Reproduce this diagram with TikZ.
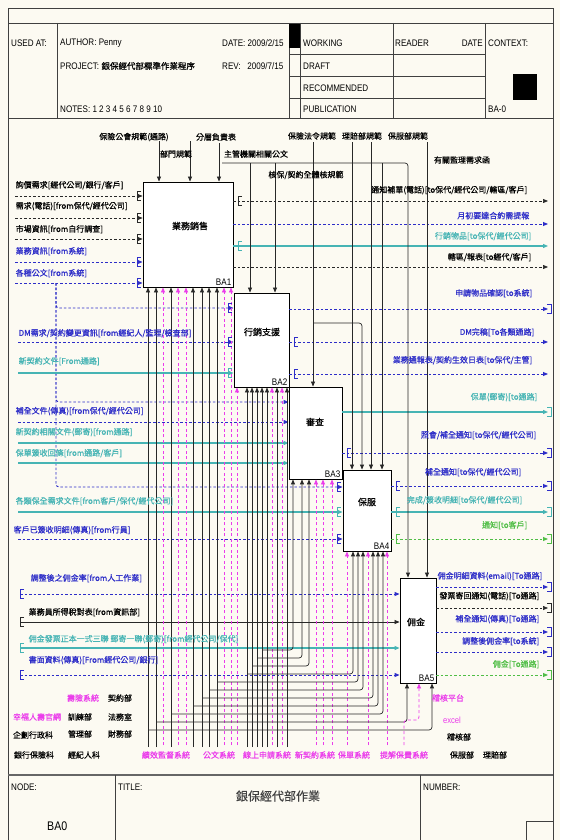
\documentclass[tikz,border=0pt]{standalone}
\usepackage{fontspec}
\setmainfont{Liberation Sans}[FakeStretch=0.85]
\newfontfamily\cjk{Noto Sans CJK TC}[FakeBold=0.6]
\usetikzlibrary{arrows.meta}
\definecolor{paper}{RGB}{252,250,242}
\definecolor{idefline}{RGB}{40,40,40}
\definecolor{idefblue}{RGB}{45,45,200}
\definecolor{idefteal}{RGB}{70,180,180}
\definecolor{idefgreen}{RGB}{80,190,70}
\definecolor{idefmag}{RGB}{235,60,235}

\begin{document}
\begin{tikzpicture}[
  x=1pt, y=-1pt,
  actbox/.style={rectangle, draw=black, line width=0.9pt, fill=white, inner sep=0pt},
  acttext/.style={font=\cjk\fontsize{9}{10}\selectfont},
  actnum/.style={anchor=south east, inner sep=2pt, font=\fontsize{9.5}{10}\selectfont},
  lbl/.style={inner sep=0.5pt, font=\cjk\fontsize{8}{9}\selectfont},
  hdr/.style={anchor=west, inner sep=0pt, font=\fontsize{9.5}{11}\selectfont},
  kline/.style={draw=idefline, line width=0.7pt, -{Triangle[length=5pt,width=4pt]}},
  kdash/.style={kline, dash pattern=on 2.5pt off 2pt},
  bdash/.style={kline, draw=idefblue, line width=0.9pt, dash pattern=on 2.5pt off 2pt},
  tline/.style={kline, draw=idefteal, line width=1.1pt},
  gdash/.style={kline, draw=idefgreen, line width=0.9pt, dash pattern=on 2.5pt off 2pt},
  mdash/.style={kline, draw=idefmag, line width=0.8pt, dash pattern=on 3pt off 2.5pt},
  frame/.style={draw=black!75, line width=0.8pt},
  tunl/.pic={\draw[line width=0.7pt] (4,-4.5) -- (0,-4.5) -- (0,4.5) -- (4,4.5);},
  tunr/.pic={\draw[line width=0.7pt] (-4,-4.5) -- (0,-4.5) -- (0,4.5) -- (-4,4.5);}
]
  \useasboundingbox[fill=paper] (0,0) rectangle (560,840);

  % form frame and header
  \draw[frame] (8,840) -- (8,8) -- (553,8) -- (553,840);
  \draw[frame] (8,23) -- (553,23) (8,118) -- (553,118);
  \draw[frame] (57,23) -- (57,118) (289,23) -- (289,118) (300,23) -- (300,118) (393,23) -- (393,118) (485,23) -- (485,118);
  \draw[frame] (289,54) -- (485,54) (289,76) -- (485,76) (289,98) -- (485,98);
  \fill (289,24) rectangle (300,48);
  \fill (513,74) rectangle (537,100);
  \node[hdr] (usedat) at (11,43) {USED AT:};
  \node[hdr] (author) at (60,43) {AUTHOR:\ Penny};
  \node[hdr] (project) at (60,66) {PROJECT:\ {\cjk\fontsize{8.5}{10}\selectfont 銀保經代部標準作業程序}};
  \node[hdr] (notes) at (60,109) {NOTES:\ 1\ 2\ 3\ 4\ 5\ 6\ 7\ 8\ 9\ 10};
  \node[hdr] (hdate) at (222,43) {DATE:\ 2009/2/15};
  \node[hdr] (hrev) at (222,66) {REV:\ \ \ 2009/7/15};
  \node[hdr] (working) at (303,43) {WORKING};
  \node[hdr] (draft) at (303,66) {DRAFT};
  \node[hdr] (recom) at (303,88) {RECOMMENDED};
  \node[hdr] (publ) at (303,109) {PUBLICATION};
  \node[hdr] (reader) at (395,43) {READER};
  \node[hdr, anchor=east] (rdate) at (483,43) {DATE};
  \node[hdr] (context) at (488,43) {CONTEXT:};
  \node[hdr] (ctxnum) at (488,109) {BA-0};

  % footer
  \draw[black!60, line width=1.6pt] (8,775) -- (553,775);
  \draw[frame] (115,775) -- (115,840) (420,775) -- (420,840) (526,840) -- (526,821) -- (553,821);
  \node[hdr] (nodelbl) at (11,787) {NODE:};
  \node[hdr, font=\fontsize{12.5}{14}\selectfont] (nodeid) at (47,826) {BA0};
  \node[hdr] (titlelbl) at (118,787) {TITLE:};
  \node[font=\cjk\fontsize{12}{14}\selectfont, text=black!75] (title) at (278,796) {銀保經代部作業};
  \node[hdr] (numlbl) at (423,787) {NUMBER:};

  % activity boxes
  \node[actbox, minimum width=90pt, minimum height=105pt] (ba1) at (188,234.5) {};
  \node[actbox, minimum width=55pt, minimum height=94pt] (ba2) at (261.5,340) {};
  \node[actbox, minimum width=53pt, minimum height=92pt] (ba3) at (315.5,433) {};
  \node[actbox, minimum width=48pt, minimum height=81pt] (ba4) at (367,510.5) {};
  \node[actbox, minimum width=36pt, minimum height=105pt] (ba5) at (418,630.5) {};
  \node[acttext] (ba1t) at (190,226) {業務銷售};
  \node[acttext] (ba2t) at (262,332) {行銷支援};
  \node[acttext] (ba3t) at (315,422) {審查};
  \node[acttext] (ba4t) at (367,502) {保服};
  \node[acttext] (ba5t) at (416,622) {佣金};
  \node[actnum] (ba1n) at (ba1.south east) {BA1};
  \node[actnum] (ba2n) at (ba2.south east) {BA2};
  \node[actnum] (ba3n) at (ba3.south east) {BA3};
  \node[actnum] (ba4n) at (ba4.south east) {BA4};
  \node[actnum] (ba5n) at (ba5.south east) {BA5};

  % inputs
  \coordinate (i1) at (15,196);
  \coordinate (i2) at (15,218);
  \coordinate (i3) at (15,239);
  \coordinate (i4) at (15,262);
  \coordinate (i5) at (15,283);
  \draw[kdash] (i1) -- (i1 -| ba1.west);
  \draw[kdash] (i2) -- (i2 -| ba1.west);
  \draw[kdash] (i3) -- (i3 -| ba1.west);
  \draw[bdash] (i4) -- (i4 -| ba1.west);
  \draw[bdash] (i5) -- (i5 -| ba1.west);
  \coordinate (br) at (56,283);
  \coordinate (br2) at (56,308);
  \coordinate (br3) at (56,402);
  \coordinate (br4) at (56,487);
  \draw[bdash, rounded corners=3pt] (br) |- (br2 -| ba2.west);
  \draw[bdash, rounded corners=3pt] (br) |- (br3 -| ba3.west);
  \draw[bdash, rounded corners=3pt] (br) |- (br4 -| ba4.west);
  \coordinate (i6) at (18,342);
  \coordinate (i7) at (18,373);
  \draw[bdash] (i6) -- (i6 -| ba2.west);
  \draw[tline] (i7) -- (i7 -| ba2.west);
  \coordinate (i8) at (18,422);
  \coordinate (i9) at (18,443);
  \coordinate (i10) at (18,463);
  \draw[bdash] (i8) -- (i8 -| ba3.west);
  \draw[tline] (i9) -- (i9 -| ba3.west);
  \draw[tline] (i10) -- (i10 -| ba3.west);
  \coordinate (i11) at (18,512);
  \coordinate (i12) at (18,539);
  \draw[tline] (i11) -- (i11 -| ba4.west);
  \draw[bdash] (i12) -- (i12 -| ba4.west);
  \coordinate (i13) at (20,594);
  \coordinate (i14) at (20,622);
  \coordinate (i15) at (20,648);
  \coordinate (i16) at (20,675);
  \draw[bdash] (i13) -- (i13 -| ba5.west);
  \draw[kline] (i14) -- (i14 -| ba5.west);
  \draw[tline] (i15) -- (i15 -| ba5.west);
  \draw[bdash] (i16) -- (i16 -| ba5.west);

  % outputs
  \coordinate (o1) at (548,201);
  \coordinate (o2) at (548,224);
  \coordinate (o3) at (548,246);
  \coordinate (o4) at (548,267);
  \draw[kdash] (o1 -| ba1.east) -- (o1);
  \draw[bdash] (o2 -| ba1.east) -- (o2);
  \draw[tline] (o3 -| ba1.east) -- (o3);
  \draw[kdash] (o4 -| ba1.east) -- (o4);
  \coordinate (o5) at (548,309);
  \coordinate (o6) at (548,342);
  \coordinate (o7) at (548,374);
  \draw[bdash] (o5 -| ba2.east) -- (o5);
  \draw[bdash] (o6 -| ba2.east) -- (o6);
  \draw[bdash] (o7 -| ba2.east) -- (o7);
  \coordinate (o8) at (548,412);
  \coordinate (o9) at (548,453);
  \draw[tline] (o8 -| ba3.east) -- (o8);
  \draw[bdash] (o9 -| ba3.east) -- (o9);
  \coordinate (o10) at (548,486);
  \coordinate (o11) at (548,512);
  \coordinate (o12) at (548,539);
  \draw[bdash] (o10 -| ba4.east) -- (o10);
  \draw[tline] (o11 -| ba4.east) -- (o11);
  \draw[gdash] (o12 -| ba4.east) -- (o12);
  \coordinate (o13) at (548,587);
  \coordinate (o14) at (548,608);
  \coordinate (o15) at (548,632);
  \coordinate (o16) at (548,652);
  \coordinate (o17) at (548,675);
  \draw[bdash] (o13 -| ba5.east) -- (o13);
  \draw[kdash] (o14 -| ba5.east) -- (o14);
  \draw[bdash] (o15 -| ba5.east) -- (o15);
  \draw[bdash] (o16 -| ba5.east) -- (o16);
  \draw[gdash] (o17 -| ba5.east) -- (o17);

  % controls
  \coordinate (c1) at (159,141);
  \coordinate (c2) at (190,141);
  \coordinate (c3) at (219,143);
  \draw[kline] (c1) -- (c1 |- ba1.north);
  \draw[kline] (c2) -- (c2 |- ba1.north);
  \draw[kline] (c3) -- (c3 |- ba1.north);
  \coordinate (c4) at (222,163);
  \coordinate (c4a) at (250,163);
  \coordinate (c4b) at (275,163);
  \coordinate (c4c) at (382,163);
  \coordinate (c4d) at (408,163);
  \draw[kline, rounded corners=3pt] (c4) -| (c4d |- ba5.north);
  \draw[kline] (c4a) -- (c4a |- ba2.north);
  \draw[kline] (c4b) -- (c4b |- ba2.north);
  \draw[kline] (c4c) -- (c4c |- ba4.north);
  \coordinate (c6) at (313,142);
  \coordinate (c6b) at (313,323);
  \coordinate (c6c) at (362,323);
  \draw[kline] (c6) -- (c6 |- ba3.north);
  \draw[kline, rounded corners=3pt] (c6b) -| (c6c |- ba4.north);
  \coordinate (c7) at (352,142);
  \coordinate (c7b) at (371,142);
  \coordinate (c8) at (427,142);
  \draw[kline] (c7) -- (c7 |- ba4.north);
  \draw[kline] (c7b) -- (c7b |- ba4.north);
  \draw[kline] (c8) -- (c8 |- ba5.north);

  % mechanisms
  \foreach \x in {148,156,171,193,202,209,217} {
    \coordinate (k\x) at (\x,747);
    \draw[kline] (k\x) -- (k\x |- ba1.south);
  }
  \foreach \x in {163,178,186,224,231} {
    \coordinate (m\x) at (\x,745);
    \draw[mdash] (m\x) -- (m\x |- ba1.south);
  }
  \foreach \x in {247,252,257,262,267,277,287} {
    \coordinate (k\x) at (\x,747);
    \draw[kline] (k\x) -- (k\x |- ba2.south);
  }
  \foreach \x in {237,272,282} {
    \coordinate (m\x) at (\x,745);
    \draw[mdash] (m\x) -- (m\x |- ba2.south);
  }
  \foreach \x in {316,323,332} {
    \coordinate (m\x) at (\x,745);
    \draw[mdash] (m\x) -- (m\x |- ba3.south);
  }
  \foreach \x in {347,368,387} {
    \coordinate (m\x) at (\x,745);
    \draw[mdash] (m\x) -- (m\x |- ba4.south);
  }
  \foreach \s/\y/\t/\b in {148/730/432/ba5, 156/722/407/ba5, 171/714/383/ba4, 193/706/378/ba4,
      202/698/373/ba4, 209/690/363/ba4, 217/682/358/ba4, 247/674/353/ba4,
      252/666/309/ba3, 257/658/302/ba3, 262/650/293/ba3} {
    \coordinate (j\t) at (\s,\y);
    \coordinate (e\t) at (\t,\y);
    \draw[kline, rounded corners=3pt] (j\t) -- (e\t) -- (e\t |- \b.south);
  }
  \coordinate (m404) at (404,745);
  \coordinate (n419) at (419,720);
  \draw[mdash, rounded corners=3pt] (m404) |- (n419) -- (n419 |- ba5.south);

  % tunnels
  \foreach \y in {196,218,239} \pic[idefline] at (137,\y) {tunl};
  \foreach \y in {262,283} \pic[idefblue] at (137,\y) {tunl};
  \pic[idefline] at (238,201) {tunl};
  \pic[idefteal] at (238,246) {tunl};
  \foreach \y in {308,342} \pic[idefblue] at (228,\y) {tunl};
  \pic[idefteal] at (228,373) {tunl};
  \foreach \y in {342,374} \pic[idefblue] at (294,\y) {tunl};
  \pic[idefblue] at (347,453) {tunl};
  \foreach \y in {487,539} \pic[idefblue] at (337,\y) {tunl};
  \pic[idefteal] at (337,512) {tunl};
  \foreach \y in {486} \pic[idefblue] at (396,\y) {tunl};
  \pic[idefteal] at (396,512) {tunl};
  \pic[idefgreen] at (396,539) {tunl};
  \foreach \y in {594,675} \pic[idefblue] at (20,\y) {tunl};
  \pic[idefline] at (20,622) {tunl};
  \pic[idefteal] at (20,648) {tunl};
  \foreach \y in {309,453,486,587,632,652} \pic[idefblue] at (551,\y) {tunr};
  \foreach \y in {412,512} \pic[idefteal] at (551,\y) {tunr};
  \pic[idefgreen] at (551,539) {tunr};
  \pic[idefline] at (551,608) {tunr};
  \pic[idefgreen] at (551,675) {tunr};

  % input labels
  \node[lbl, anchor=south west] (l1) at (15,190) {詢價需求[經代公司/銀行/客戶]};
  \node[lbl, anchor=south west] (l2) at (15,211) {需求(電話)[from保代/經代公司]};
  \node[lbl, anchor=south west] (l3) at (15,234) {市場資訊[from自行調查]};
  \node[lbl, anchor=south west, text=idefblue] (l4) at (15,256) {業務資訊[from系統]};
  \node[lbl, anchor=south west, text=idefblue] (l5) at (15,278) {各種公文[from系統]};
  \node[lbl, anchor=south west, text=idefblue] (l6) at (18,338) {DM需求/契約變更資訊[from經紀人/監理/檢查部]};
  \node[lbl, anchor=south west, text=idefteal] (l7) at (18,366) {新契約文件[From通路]};
  \node[lbl, anchor=south west, text=idefblue] (l8) at (15,416) {補全文件(傳真)[from保代/經代公司]};
  \node[lbl, anchor=south west, text=idefteal] (l9) at (15,437) {新契約相關文件(郵寄)[from通路]};
  \node[lbl, anchor=south west, text=idefteal] (l10) at (15,458) {保單簽收回條[from通路/客戶]};
  \node[lbl, anchor=south west, text=idefteal] (l11) at (15,506) {各類保全需求文件[from客戶/保代/經代公司]};
  \node[lbl, anchor=south west, text=idefblue] (l12) at (13,535) {客戶已簽收明細(傳真)[from行員]};
  \node[lbl, anchor=south west, text=idefblue] (l13) at (30,583) {調整後之佣金率[from人工作業]};
  \node[lbl, anchor=south west] (l14) at (28,617) {業務員所得稅對表[from資訊部]};
  \node[lbl, anchor=south west, text=idefteal] (l15) at (28,644) {佣金發票正本一式三聯\ 郵寄一聯(郵寄)[from經代公司/保代]};
  \node[lbl, anchor=south west, text=idefblue] (l16) at (28,665) {書面資料(傳真)[From經代公司/銀行]};

  % output labels
  \node[lbl] (note1) at (462,160) {有關監理需求函};
  \node[lbl, anchor=south east] (r1) at (528,195) {通知補單(電話)[to保代/經代公司/轄區/客戶]};
  \node[lbl, anchor=south east, text=idefblue] (r2) at (530,220) {月初要達合約需提報};
  \node[lbl, anchor=south east, text=idefteal] (r3) at (532,241) {行銷物品[to保代/經代公司]};
  \node[lbl, anchor=south east] (r4) at (532,262) {轄區/報表[to經代/客戶]};
  \node[lbl, anchor=south east, text=idefblue] (r5) at (533,298) {申請物品確認[to系統]};
  \node[lbl, anchor=south east, text=idefblue] (r6) at (535,337) {DM完稿[To各類通路]};
  \node[lbl, anchor=south east, text=idefblue] (r7) at (533,365) {業務通報表/契約生效日表[to保代/主管]};
  \node[lbl, anchor=south east, text=idefteal] (r8) at (538,402) {保單(郵寄)[to通路]};
  \node[lbl, anchor=south east, text=idefblue] (r9) at (537,440) {照會/補全通知[to保代/經代公司]};
  \node[lbl, anchor=south east, text=idefblue] (r10) at (522,477) {補全通知[to保代/經代公司]};
  \node[lbl, anchor=south east, text=idefteal] (r11) at (523,505) {完成/簽收明細[to保代/經代公司]};
  \node[lbl, anchor=south east, text=idefgreen] (r12) at (528,530) {通知[to客戶]};
  \node[lbl, anchor=south east, text=idefblue] (r13) at (543,581) {佣金明細資料(email)[To通路]};
  \node[lbl, anchor=south east] (r14) at (540,601) {發票寄回通知(電話)[To通路]};
  \node[lbl, anchor=south east, text=idefblue] (r15) at (540,624) {補全通知(傳真)[To通路]};
  \node[lbl, anchor=south east, text=idefblue] (r16) at (540,646) {調整後佣金率[to系統]};
  \node[lbl, anchor=south east, text=idefgreen] (r17) at (540,669) {佣金[To通路]};

  % control labels
  \node[lbl] (t1) at (134,137) {保險公會規範(通路)};
  \node[lbl] (t2) at (176,154) {部門規範};
  \node[lbl] (t3) at (216,137) {分層負責表};
  \node[lbl] (t4) at (256,154) {主管機關相關公文};
  \node[lbl] (t5) at (306,175) {核保/契約全體核規範};
  \node[lbl] (t6) at (312,136) {保險法令規範};
  \node[lbl] (t7) at (362,136) {理賠部規範};
  \node[lbl] (t8) at (408,136) {保服部規範};

  % mechanism labels
  \node[lbl, text=idefmag] (s1) at (166,755) {績效監督系統};
  \node[lbl, text=idefmag] (s2) at (219,755) {公文系統};
  \node[lbl, text=idefmag] (s3) at (267,755) {線上申請系統};
  \node[lbl, text=idefmag] (s4) at (315,755) {新契約系統};
  \node[lbl, text=idefmag] (s5) at (354,755) {保單系統};
  \node[lbl, text=idefmag] (s6) at (404,755) {提解保費系統};
  \node[lbl, text=idefmag] (u1) at (37,717) {幸福人壽官網};
  \node[lbl] (u2) at (33,735) {企劃行政科};
  \node[lbl] (u3) at (34,755) {銀行保險科};
  \node[lbl, text=idefmag] (u4) at (83,698) {壽險系統};
  \node[lbl] (u5) at (80,717) {訓練部};
  \node[lbl] (u6) at (80,734) {管理部};
  \node[lbl] (u7) at (84,755) {經紀人科};
  \node[lbl] (u8) at (120,698) {契約部};
  \node[lbl] (u9) at (120,717) {法務室};
  \node[lbl] (u10) at (120,734) {財務部};
  \node[lbl, text=idefmag] (u11) at (448,698) {稽核平台};
  \node[text=idefmag, inner sep=0.5pt, font=\fontsize{9}{10}\selectfont] (u12) at (452,720) {excel};
  \node[lbl] (u13) at (459,737) {稽核部};
  \node[lbl] (u14) at (462,755) {保服部};
  \node[lbl] (u15) at (495,755) {理賠部};
\end{tikzpicture}
\end{document}
